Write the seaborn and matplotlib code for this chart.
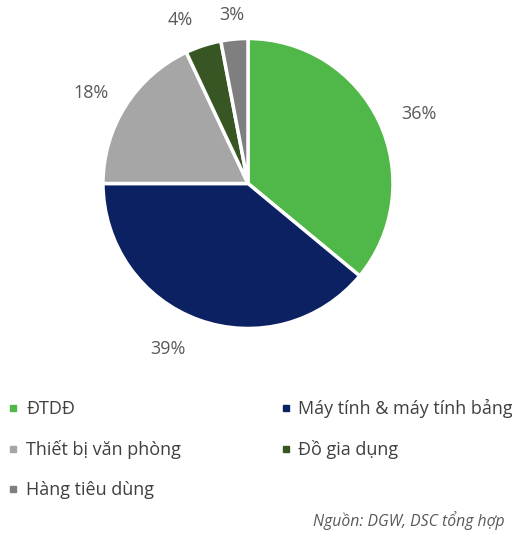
import matplotlib
matplotlib.use("Agg")
import matplotlib.pyplot as plt
import seaborn as sns
import numpy as np
from matplotlib.lines import Line2D

categories = ["ĐTDĐ", "Máy tính & máy tính bảng", "Thiết bị văn phòng",
              "Đồ gia dụng", "Hàng tiêu dùng"]
shares = [36, 39, 18, 4, 3]
colors = ["#50B848", "#0B2161", "#A6A6A6", "#375623", "#7F7F7F"]
source = "Nguồn: DGW, DSC tổng hợp"

# label placement (radius in pie radii, angle nudge in degrees)
label_r = [1.27, 1.27, 1.25, 1.22, 1.17]
label_nudge = [-3, -6, 2.4, 4.5, 0]

sns.set_theme(style="white")
plt.rcParams['font.family'] = ['Open Sans', 'DejaVu Sans']

fig = plt.figure(figsize=(5.12, 5.37), dpi=100)
W, H = 512, 537
cx, cy, r = 248, 183.5, 145
ax = fig.add_axes([(cx - r) / W, 1 - (cy + r) / H, 2 * r / W, 2 * r / H])

wedges, texts, pcts = ax.pie(
    shares, colors=colors, startangle=90, counterclock=False,
    autopct=lambda p: f"{p:.0f}%", pctdistance=1.2,
    wedgeprops=dict(edgecolor="white", linewidth=2.5),
    textprops=dict(color="#595959", fontsize=13))
for w, t, rr, dn in zip(wedges, pcts, label_r, label_nudge):
    ang = np.deg2rad((w.theta1 + w.theta2) / 2 + dn)
    t.set_position((rr * np.cos(ang), rr * np.sin(ang)))
ax.set_aspect("equal")
ax.set_xlim(-1, 1)
ax.set_ylim(-1, 1)
ax.axis("off")

order = [0, 2, 4, 1, 3]
handles = [Line2D([], [], marker="s", linestyle="", markersize=5,
                  color=colors[i]) for i in order]
labels = [categories[i] for i in order]
fig.legend(handles, labels, ncol=2, loc="upper left",
           bbox_to_anchor=(-0.016, 1 - 383 / H), frameon=False,
           fontsize=13, handlelength=0.6, handletextpad=0.4,
           labelspacing=1.22, columnspacing=5.5, labelcolor="#404040")

fig.text(505 / W, 1 - 521 / H, source, ha="right", va="center",
         fontsize=11.3, style="italic", color="#595959")

fig.savefig("out.png", dpi=100)
